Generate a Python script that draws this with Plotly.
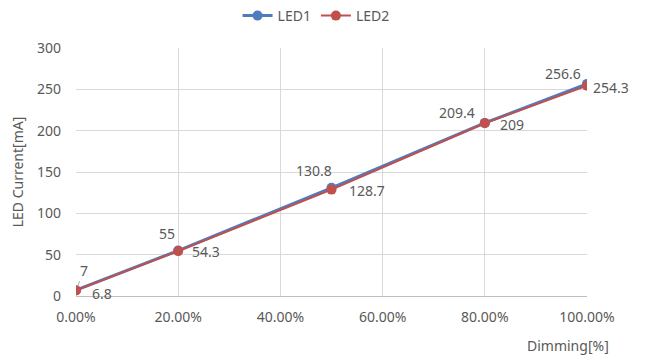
import plotly.graph_objects as go

# Dimming ratio (fraction) and measured LED currents [mA]
dimming = [0.0, 0.2, 0.5, 0.8, 1.0]
led1 = [7, 55, 130.8, 209.4, 256.6]
led2 = [6.8, 54.3, 128.7, 209, 254.3]

x_ticks = [0.0, 0.2, 0.4, 0.6, 0.8, 1.0]
x_tick_text = ["0.00%", "20.00%", "40.00%", "60.00%", "80.00%", "100.00%"]
y_ticks = [0, 50, 100, 150, 200, 250, 300]

BLUE = "#4F7CBF"
RED = "#C0504D"
TXT = "#595959"
FONT = "Noto Sans"
FS = 14

fig = go.Figure()
fig.add_trace(go.Scatter(x=dimming, y=led1, name="LED1", mode="lines+markers",
                         line=dict(color=BLUE, width=3),
                         marker=dict(color=BLUE, size=10)))
fig.add_trace(go.Scatter(x=dimming, y=led2, name="LED2", mode="lines+markers",
                         line=dict(color=RED, width=2),
                         marker=dict(color=RED, size=10)))

# Data labels: LED1 above-left, LED2 to the right of each point (pixel offsets)
led1_offsets = [(8, 20), (-11, 17), (-18, 17), (-28, 10), (-24, 10)]
led2_offsets = [(26, -3), (28, 0), (35, -1), (27, -1), (24, -2)]
for i, (xv, yv, (dx, dy)) in enumerate(zip(dimming, led1, led1_offsets)):
    if i == 0:
        # first label is pulled away from the crowded origin with a leader line
        fig.add_annotation(x=xv, y=yv, text=str(yv), showarrow=True,
                           arrowhead=0, arrowwidth=1, arrowcolor="#A6A6A6",
                           ax=dx, ay=-dy, standoff=4,
                           font=dict(size=FS, color=TXT, family=FONT))
    else:
        fig.add_annotation(x=xv, y=yv, text=str(yv), showarrow=False,
                           xshift=dx, yshift=dy,
                           font=dict(size=FS, color=TXT, family=FONT))
for xv, yv, (dx, dy) in zip(dimming, led2, led2_offsets):
    fig.add_annotation(x=xv, y=yv, text=str(yv), showarrow=False,
                       xshift=dx, yshift=dy, font=dict(size=FS, color=TXT, family=FONT))

fig.add_annotation(x=1.0, xref="x", xanchor="right", xshift=24,
                   y=0, yref="paper", yanchor="top", yshift=-38,
                   text="Dimming[%]", showarrow=False,
                   font=dict(size=FS, color=TXT, family=FONT))

fig.update_layout(
    width=645, height=359,
    margin=dict(l=76, r=58, t=48, b=63, autoexpand=False),
    paper_bgcolor="white", plot_bgcolor="white",
    font=dict(family=FONT, size=FS, color=TXT),
    showlegend=True,
    legend=dict(orientation="h", x=0.49, xanchor="center", xref="container",
                y=1.0, yanchor="top", yref="container",
                font=dict(size=FS, color=TXT), itemwidth=30),
    xaxis=dict(range=[0, 1.0], tickvals=x_ticks, ticktext=x_tick_text,
               showgrid=True, gridcolor="#D9D9D9", gridwidth=1,
               zeroline=False, showline=True, linecolor="#BFBFBF",
               ticks="", ticklabelstandoff=8, automargin=False),
    yaxis=dict(range=[0, 300], tickvals=y_ticks,
               showgrid=True, gridcolor="#D9D9D9", gridwidth=1,
               zeroline=False, showline=False, ticks="",
               ticklabelstandoff=14, automargin=False,
               title=dict(text="LED Current[mA]", standoff=10,
                          font=dict(size=FS, color=TXT))),
)

fig.write_html("out.html")
